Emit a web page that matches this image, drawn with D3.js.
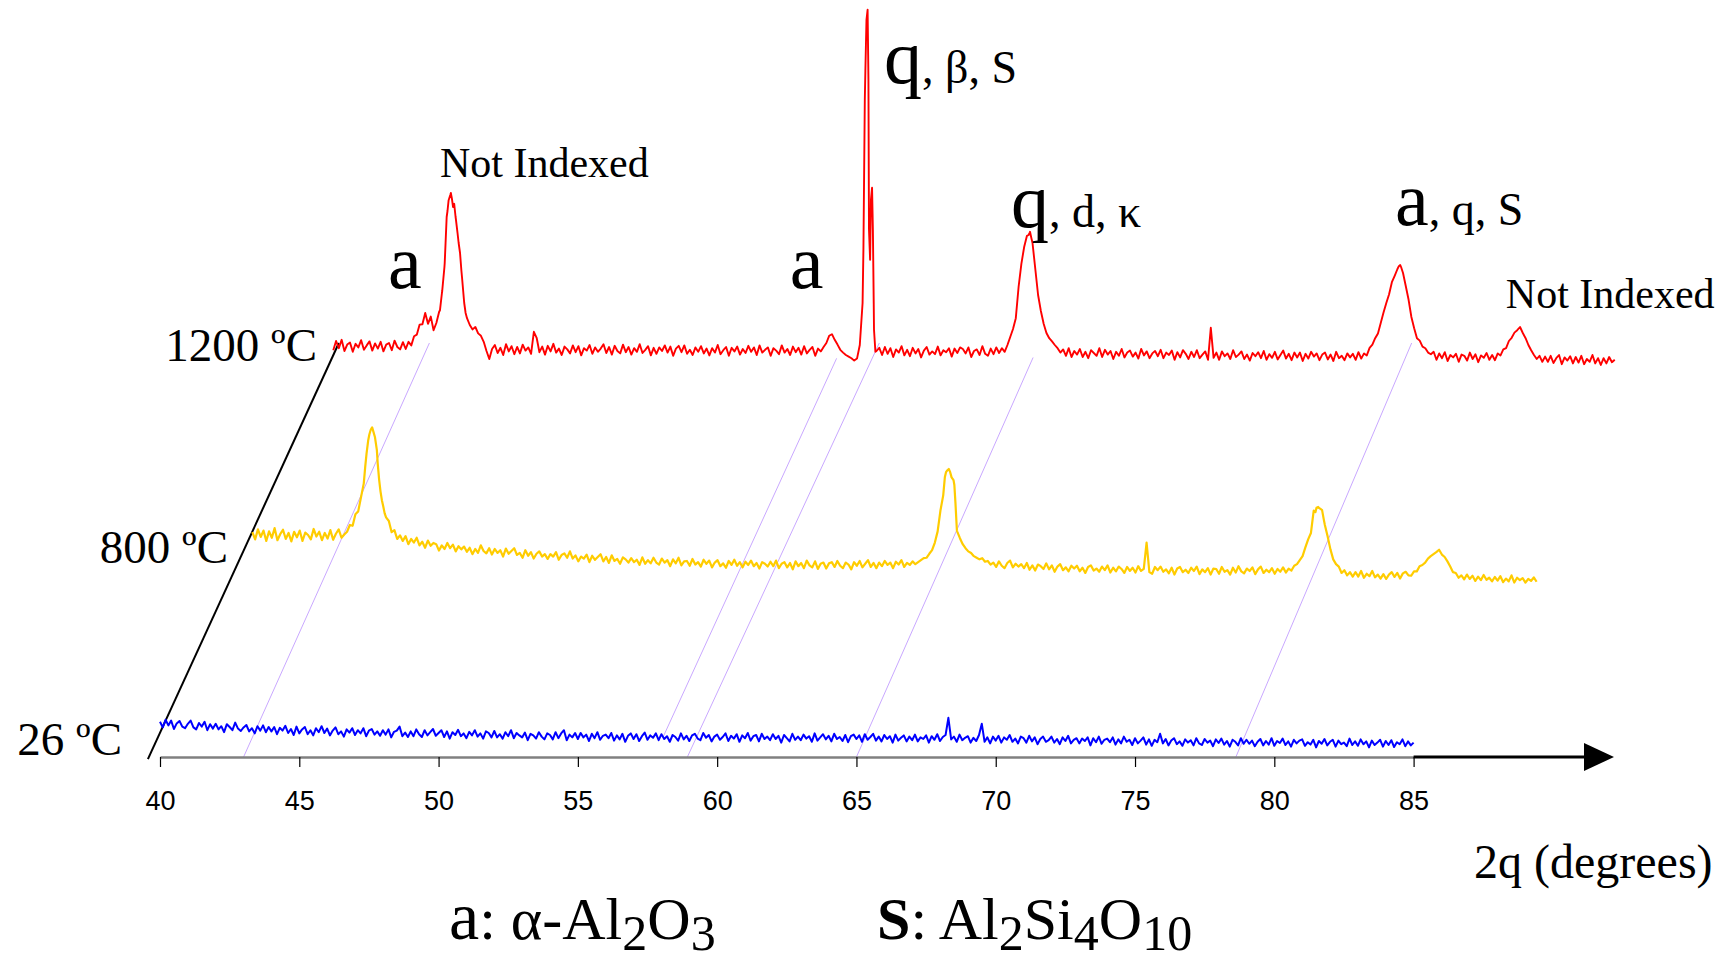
<!DOCTYPE html>
<html>
<head>
<meta charset="utf-8">
<title>XRD patterns vs temperature</title>
<style>
body { margin: 0; background: #fff; }
svg { display: block; background: #fff; }
</style>
</head>
<body>
<div id="chart"></div>
<script src="https://d3js.org/d3.v7.min.js"></script>
<script>
// 2theta grid step for the scanned counts (degrees)
var gridStep = 0.1;

var tickValues = [40, 45, 50, 55, 60, 65, 70, 75, 80, 85];
var tempLabels = ["26 ºC", "800 ºC", "1200 ºC"];
var seriesDepth = [0, 0.574, 1];
var seriesStart = [40.0, 39.4, 39.4];

// 26 ºC, 40.0 -> 85.0 deg
var counts26 = [
  288, 274, 293, 279, 291, 270, 284, 290, 276, 272,
  283, 291, 274, 269, 285, 276, 288, 267, 282, 271,
  283, 269, 277, 262, 282, 275, 267, 286, 271, 265,
  274, 280, 264, 272, 259, 277, 266, 279, 262, 275,
  264, 275, 257, 273, 266, 278, 260, 270, 255, 276,
  259, 269, 275, 257, 267, 254, 272, 262, 277, 260,
  271, 254, 266, 274, 257, 264, 251, 269, 261, 272,
  255, 267, 259, 272, 252, 266, 270, 256, 264, 253,
  267, 256, 269, 249, 263, 266, 276, 252, 261, 250,
  264, 252, 269, 257, 250, 267, 254, 262, 270, 253,
  260, 267, 250, 264, 246, 262, 255, 268, 252, 259,
  247, 263, 254, 267, 251, 259, 246, 264, 260, 249,
  265, 249, 257, 246, 262, 252, 267, 247, 260, 254,
  249, 261, 242, 258, 254, 246, 262, 251, 244, 259,
  255, 244, 262, 247, 259, 267, 242, 256, 249, 260,
  245, 260, 249, 256, 240, 258, 247, 262, 243, 253,
  256, 247, 260, 241, 254, 244, 258, 238, 253, 259,
  245, 257, 240, 252, 261, 243, 254, 248, 259, 242,
  257, 245, 252, 238, 255, 250, 241, 259, 244, 253,
  240, 254, 258, 246, 242, 260, 248, 255, 239, 251,
  256, 243, 250, 259, 240, 253, 246, 257, 238, 254,
  247, 260, 241, 252, 255, 239, 258, 245, 251, 242,
  257, 245, 253, 236, 255, 247, 239, 258, 243, 251,
  242, 256, 246, 252, 238, 259, 241, 249, 257, 244,
  253, 239, 258, 245, 250, 240, 255, 237, 252, 256,
  245, 254, 238, 257, 243, 250, 258, 241, 251, 239,
  255, 245, 252, 236, 256, 241, 248, 254, 239, 251,
  242, 256, 239, 249, 245, 254, 236, 252, 243, 257,
  240, 250, 255, 298, 244, 251, 238, 256, 242, 248,
  252, 236, 248, 240, 255, 283, 238, 249, 234, 251,
  241, 253, 236, 249, 243, 255, 238, 246, 234, 251,
  247, 236, 253, 239, 249, 232, 245, 251, 238, 242,
  251, 236, 245, 232, 249, 240, 253, 234, 243, 247,
  234, 246, 240, 249, 229, 247, 237, 251, 233, 243,
  246, 237, 249, 231, 244, 234, 251, 238, 243, 230,
  247, 234, 241, 249, 231, 244, 228, 243, 237, 258,
  234, 245, 229, 241, 247, 232, 239, 228, 244, 236,
  242, 229, 247, 234, 230, 245, 236, 241, 227, 244,
  235, 246, 231, 240, 226, 243, 238, 229, 247, 233,
  243, 233, 241, 227, 238, 245, 229, 240, 231, 247,
  228, 240, 235, 246, 230, 239, 226, 243, 234, 241,
  244, 228, 237, 231, 243, 224, 240, 233, 245, 229,
  238, 243, 226, 241, 232, 236, 227, 246, 230, 239,
  228, 244, 232, 239, 224, 241, 230, 236, 243, 226,
  240, 230, 242, 225, 237, 232, 244, 227, 239, 229,
  236
];

// 800 ºC, 39.4 -> 85.5 deg
var counts800 = [
  168, 150, 175, 156, 172, 146,
  170, 154, 178, 148, 163, 174, 151, 166, 145, 169,
  155, 172, 146, 167, 161, 150, 176, 157, 169, 148,
  166, 152, 173, 149, 164, 175, 154, 162, 169, 186,
  184, 213, 220, 255, 290, 365, 412, 430, 406, 340,
  270, 232, 205, 196, 168, 173, 151, 160, 146, 158,
  138, 151, 142, 154, 135, 144, 129, 147, 134, 141,
  138, 122, 135, 126, 141, 128, 137, 120, 133, 125,
  132, 119, 129, 113, 126, 116, 135, 121, 115, 128,
  112, 126, 116, 123, 107, 127, 114, 121, 128, 111,
  116, 104, 123, 109, 118, 102, 114, 120, 107, 113,
  101, 113, 107, 118, 99, 111, 115, 104, 120, 102,
  110, 95, 107, 102, 112, 93, 109, 99, 106, 113,
  95, 106, 91, 110, 96, 101, 89, 105, 100, 92,
  103, 93, 99, 86, 105, 89, 98, 90, 104, 92,
  87, 102, 92, 98, 83, 100, 90, 104, 85, 95,
  96, 84, 101, 87, 93, 82, 99, 89, 97, 80,
  92, 98, 83, 90, 79, 96, 86, 99, 84, 93,
  80, 94, 86, 97, 83, 91, 77, 93, 89, 82,
  94, 83, 97, 78, 89, 93, 80, 91, 75, 95,
  83, 91, 78, 97, 85, 80, 95, 76, 89, 92,
  77, 90, 93, 81, 96, 84, 78, 92, 87, 75,
  93, 84, 96, 80, 89, 98, 81, 91, 78, 92,
  83, 96, 86, 92, 78, 94, 87, 98, 81, 91,
  86, 95, 88, 93, 98, 103, 104, 114, 123, 142,
  170, 222, 260, 318, 326, 305, 286, 170, 153, 138,
  128, 120, 116, 108, 104, 100, 103, 94, 96, 87,
  92, 81, 95, 84, 78, 91, 97, 80, 89, 82,
  88, 78, 91, 74, 85, 72, 87, 83, 76, 90,
  75, 85, 69, 82, 88, 73, 80, 70, 84, 77,
  84, 70, 79, 66, 81, 85, 72, 77, 69, 82,
  73, 85, 67, 79, 70, 82, 76, 66, 81, 71,
  79, 67, 83, 71, 76, 142, 68, 64, 81, 73,
  82, 69, 75, 65, 79, 62, 77, 81, 68, 74,
  66, 79, 71, 82, 63, 75, 68, 78, 62, 77,
  76, 64, 81, 69, 73, 62, 79, 67, 83, 70,
  65, 77, 71, 80, 63, 75, 82, 66, 74, 68,
  78, 64, 76, 69, 80, 67, 77, 72, 84, 88,
  98, 108, 130, 150, 166, 222, 229, 228, 223, 186,
  157, 125, 100, 88, 82, 66, 73, 60, 68, 57,
  68, 57, 71, 54, 64, 58, 71, 55, 62, 52,
  63, 51, 62, 68, 56, 66, 52, 65, 69, 60,
  59, 70, 70, 83, 86, 92, 102, 108, 113, 118,
  124, 112, 106, 95, 82, 68, 66, 54, 60, 50,
  62, 51, 59, 46, 57, 48, 61, 49, 54, 45,
  56, 47, 58, 43, 52, 45, 60, 42, 54, 48,
  53, 42, 51, 46, 55, 44
];

// 1200 ºC, 39.4 -> 85.4 deg
var counts1200 = [
  182, 205, 187, 208, 180, 196,
  201, 178, 198, 189, 207, 183, 194, 204, 181, 199,
  186, 203, 179, 196, 200, 182, 206, 190, 184, 202,
  185, 203, 194, 217, 221, 246, 247, 275, 248, 266,
  232, 250, 278, 325, 400, 530, 570, 540, 510, 450,
  380, 300, 262, 245, 234, 240, 224, 218, 203, 180,
  160, 185, 195, 175, 188, 170, 197, 179, 192, 172,
  190, 174, 196, 181, 189, 173, 228, 213, 177, 191,
  171, 193, 179, 198, 176, 186, 170, 191, 184, 174,
  194, 177, 192, 169, 187, 181, 195, 173, 189, 178,
  186, 197, 175, 190, 171, 193, 180, 174, 196, 177,
  190, 171, 187, 178, 197, 175, 183, 192, 169, 188,
  173, 189, 180, 194, 176, 191, 168, 186, 193, 177,
  194, 173, 183, 170, 189, 178, 192, 174, 186, 169,
  187, 176, 195, 172, 182, 190, 168, 188, 179, 191,
  171, 185, 175, 193, 178, 189, 170, 194, 176, 183,
  189, 168, 187, 181, 172, 194, 176, 185, 170, 191,
  177, 188, 171, 192, 174, 183, 190, 168, 186, 179,
  190, 200, 218, 222, 208, 196, 183, 176, 170, 166,
  162, 156, 161, 195, 300, 880, 920, 558, 300, 180,
  188, 170, 190, 173, 187, 165, 184, 176, 192, 169,
  183, 167, 188, 174, 185, 164, 181, 190, 171, 179,
  172, 191, 169, 182, 177, 187, 166, 186, 175, 189,
  185, 174, 189, 165, 180, 184, 170, 192, 173, 168,
  186, 172, 189, 175, 187, 178, 195, 215, 235, 262,
  340, 398, 440, 468, 476, 450, 385, 320, 280, 248,
  225, 212, 204, 195, 187, 176, 184, 168, 187, 165,
  180, 171, 185, 165, 178, 162, 182, 175, 168, 187,
  165, 183, 171, 180, 160, 178, 168, 185, 164, 176,
  181, 166, 176, 161, 185, 169, 179, 162, 174, 180,
  167, 183, 162, 176, 170, 181, 158, 177, 164, 182,
  173, 160, 178, 165, 182, 162, 171, 179, 158, 238,
  163, 176, 158, 179, 167, 174, 160, 182, 165, 171,
  179, 160, 171, 156, 175, 167, 177, 162, 180, 158,
  172, 163, 178, 159, 170, 181, 161, 173, 157, 176,
  164, 176, 155, 173, 161, 178, 166, 174, 157, 171,
  176, 159, 171, 155, 178, 162, 168, 157, 174, 164,
  173, 158, 177, 161, 174, 169, 188, 196, 212, 224,
  250, 276, 300, 322, 352, 368, 385, 395, 375, 342,
  308, 265, 237, 212, 206, 191, 187, 176, 172, 178,
  158, 174, 162, 177, 155, 170, 164, 173, 153, 171,
  168, 156, 176, 160, 172, 152, 169, 163, 175, 158,
  170, 157, 174, 169, 184, 187, 205, 213, 226, 232,
  240, 225, 212, 195, 182, 170, 160, 168, 153, 166,
  153, 168, 150, 162, 170, 147, 164, 156, 167, 149,
  165, 151, 168, 147, 160, 153, 170, 149, 162, 145,
  162, 149, 165, 152, 158
];

// finer readings around the strongest reflections [2theta, counts]
var peaks800 = [
  [43.45, 330], [43.56, 398], [43.65, 424], [43.75, 418], [43.87, 373], [43.95, 300],
  [44.05, 248], [44.15, 215],
  [64.26, 306], [64.34, 322], [64.45, 318], [64.57, 298], [64.64, 240], [64.69, 173],
  [77.46, 200], [77.56, 218], [77.66, 231], [77.75, 226], [77.86, 200]
];

var peaks1200 = [
  [43.23, 282], [43.31, 330], [43.39, 390], [43.47, 515], [43.54, 557], [43.62, 575],
  [43.66, 560], [43.74, 548], [43.79, 515], [43.86, 475], [43.95, 425], [44.02, 365],
  [44.15, 275],
  [58.43, 433], [58.48, 808], [58.54, 1008], [58.58, 1033], [58.61, 858], [58.63, 483],
  [58.67, 408], [58.7, 558], [58.74, 588], [58.77, 483], [58.81, 233], [58.86, 178],
  [64.36, 470], [64.41, 478], [64.46, 462],
  [77.65, 392], [77.73, 390]
];

// guide lines [2theta, depth] from the 1200 ºC pattern down to the base plane
var guideTop = [[42.85, 1.0], [57.72, 0.963], [59.0, 1.0], [64.76, 0.965], [78.11, 1.0]];
var guideBottom = [[43.0, 0], [57.73, 0.048], [58.93, 0], [65.0, 0], [78.62, 0]];
var depthAxisTheta = 39.6;

// ---- layout ----
var W = 1725, H = 962, axisY = 757;
var serif = "'Liberation Serif', 'Times New Roman', serif";
var sans = "'Liberation Sans', Arial, sans-serif";
var colors = ["#0000ff", "#ffcc00", "#ff0000"];
var widths = [2, 2.2, 1.9];

var svg = d3.select("#chart").append("svg")
  .attr("width", W)
  .attr("height", H);

var xScale = d3.scaleLinear().domain([40, 85]).range([160, 1413.6]);
var depthX = d3.scaleLinear().domain([0, 1]).range([0, 190]);
var depthY = d3.scaleLinear().domain([0, 1]).range([0, -414]);
var iScale = d3.scaleLinear().domain([0, 1000]).range([80, -320]);

function px(t, d) { return xScale(t) + depthX(d); }
function py(v, d) { return axisY + iScale(v) + depthY(d); }
function planeY(d) { return axisY + depthY(d); }

function buildSeries(start, counts, extra) {
  var pts = counts.map(function(v, i) {
    return [+(start + i * gridStep).toFixed(2), v];
  });
  return pts.concat(extra).sort(function(a, b) { return a[0] - b[0]; });
}

var series = [
  buildSeries(seriesStart[0], counts26, []),
  buildSeries(seriesStart[1], counts800, peaks800),
  buildSeries(seriesStart[2], counts1200, peaks1200)
];

// guide lines
svg.append("g").selectAll("line").data(guideTop).enter().append("line")
  .attr("x1", function(d) { return px(d[0], d[1]); })
  .attr("y1", function(d) { return planeY(d[1]); })
  .attr("x2", function(d, i) { return px(guideBottom[i][0], guideBottom[i][1]); })
  .attr("y2", function(d, i) { return planeY(guideBottom[i][1]); })
  .attr("stroke", "#c9a8ff")
  .attr("stroke-width", 1);

// depth axis
svg.append("line")
  .attr("x1", px(depthAxisTheta, -0.005)).attr("y1", planeY(-0.005))
  .attr("x2", px(depthAxisTheta, 1)).attr("y2", planeY(1))
  .attr("stroke", "#000")
  .attr("stroke-width", 2);

// x axis
var xAxis = d3.axisBottom(xScale)
  .tickValues(tickValues)
  .tickSize(10)
  .tickPadding(24)
  .tickSizeOuter(0);

var gx = svg.append("g")
  .attr("transform", "translate(0," + axisY + ")")
  .call(xAxis);
gx.select(".domain").attr("stroke", "#808080").attr("stroke-width", 2.5);
gx.selectAll(".tick line").attr("stroke", "#000").attr("stroke-width", 1.2);
gx.selectAll(".tick text")
  .attr("fill", "#000")
  .style("font-family", sans)
  .style("font-size", "27px");

// arrow continuing the axis
var arrowStart = xScale(85), arrowTip = 1614;
svg.append("line")
  .attr("x1", arrowStart).attr("y1", axisY)
  .attr("x2", arrowTip - 20).attr("y2", axisY)
  .attr("stroke", "#000")
  .attr("stroke-width", 3);
svg.append("path")
  .attr("d", "M" + arrowTip + "," + axisY + "L" + (arrowTip - 30) + "," + (axisY - 14) +
    "L" + (arrowTip - 30) + "," + (axisY + 14) + "Z")
  .attr("fill", "#000");

// patterns
series.forEach(function(pts, k) {
  var line = d3.line()
    .x(function(d) { return px(d[0], seriesDepth[k]); })
    .y(function(d) { return py(d[1], seriesDepth[k]); });
  svg.append("path")
    .datum(pts)
    .attr("d", line)
    .attr("fill", "none")
    .attr("stroke", colors[k])
    .attr("stroke-width", widths[k])
    .attr("stroke-linejoin", "round");
});

// temperature labels
var tempAnchor = [[122, 755], [228, 563], [317, 361]];
svg.append("g").selectAll("text").data(tempLabels).enter().append("text")
  .attr("x", function(d, i) { return tempAnchor[i][0]; })
  .attr("y", function(d, i) { return tempAnchor[i][1]; })
  .attr("text-anchor", "end")
  .style("font-family", serif)
  .style("font-size", "47px")
  .text(function(d) { return d; });

// peak annotations on the 1200 ºC pattern
function note(t, v, parts) {
  var txt = svg.append("text")
    .attr("x", px(t, 1))
    .attr("y", py(v, 1))
    .style("font-family", serif);
  parts.forEach(function(p) {
    txt.append("tspan").style("font-size", p[1] + "px").text(p[0]);
  });
}
note(43.23, 615, [["Not Indexed", 42]]);
note(81.49, 288, [["Not Indexed", 42]]);
note(41.36, 337, [["a", 76]]);
note(55.79, 337, [["a", 76]]);
note(59.17, 850, [["q", 76], [", β, S", 46]]);
note(63.73, 490, [["q", 76], [", d, κ", 46]]);
note(77.51, 495, [["a", 76], [", q, S", 46]]);

// x title
svg.append("text")
  .attr("x", 1474).attr("y", 878)
  .style("font-family", serif)
  .style("font-size", "48px")
  .text("2q (degrees)");

// legend
function legend(x, y, parts) {
  var txt = svg.append("text")
    .attr("x", x).attr("y", y)
    .style("font-family", serif)
    .style("font-size", "60px");
  var shift = 0;
  parts.forEach(function(p) {
    var sp = txt.append("tspan").text(p.t);
    var target = p.sub ? 11 : 0;
    sp.attr("dy", target - shift);
    shift = target;
    if (p.sub) sp.style("font-size", "50px");
    if (p.size) sp.style("font-size", p.size + "px");
    if (p.bold) sp.style("font-weight", "bold");
  });
}
legend(449, 939, [{t: "a", size: 68}, {t: ": α-Al"}, {t: "2", sub: true}, {t: "O"}, {t: "3", sub: true}]);
legend(877, 939, [{t: "S", bold: true}, {t: ": Al"}, {t: "2", sub: true}, {t: "Si"},
  {t: "4", sub: true}, {t: "O"}, {t: "10", sub: true}]);
</script>
</body>
</html>
